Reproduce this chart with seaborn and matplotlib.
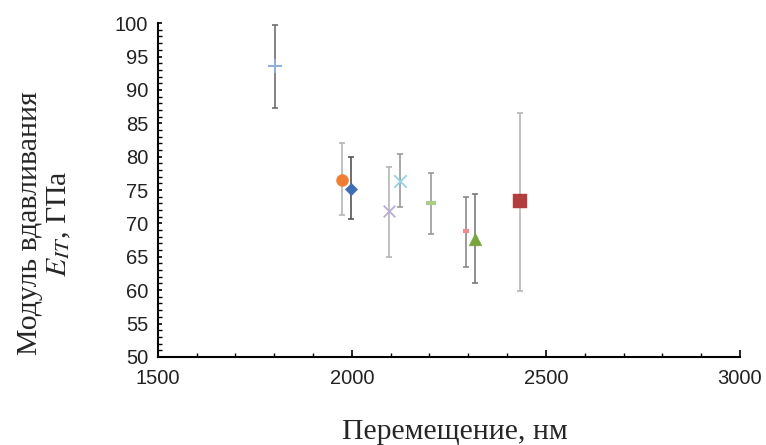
import matplotlib
matplotlib.use("Agg")
import matplotlib.pyplot as plt
import seaborn as sns
import pandas as pd
from matplotlib.ticker import MultipleLocator

sns.set_theme(style="white")
plt.rcParams["font.family"] = ["Liberation Sans", "DejaVu Sans"]
plt.rcParams["mathtext.fontset"] = "stix"

# Indentation depth (nm) and modulus (GPa) with error-bar limits
displacement = [1802, 1974, 1999, 2097, 2124, 2204, 2294, 2317, 2433]
modulus = [93.6, 76.5, 75.2, 71.8, 76.4, 73.0, 68.8, 67.7, 73.3]
upper = [99.7, 82.0, 80.0, 78.5, 80.4, 77.5, 74.0, 74.4, 86.5]
lower = [87.3, 71.2, 70.6, 64.9, 72.5, 68.4, 63.5, 61.1, 59.9]

markers = ["+", "o", "D", "x", "x", "_", "_", "^", "s"]
colors = ["#8fb0de", "#ec7f33", "#3f6fb3", "#b9add3", "#93d3e3",
          "#a9cf87", "#f08a8f", "#78a43c", "#b13d3f"]
sizes = [90, 75, 40, 70, 80, 60, 25, 85, 95]
line_widths = [1.4, 0.3, 0.3, 1.3, 1.3, 3.0, 3.0, 0.3, 0.3]
bar_colors = ["#6e6e6e", "#b5b5b5", "#555555", "#b5b5b5", "#9a9a9a",
              "#9a9a9a", "#8a8a8a", "#7a7a7a", "#b8b8b8"]

df = pd.DataFrame({"x": displacement, "y": modulus, "hi": upper, "lo": lower})

fig, ax = plt.subplots(figsize=(7.66, 4.45), dpi=100)
fig.subplots_adjust(left=0.206, right=0.966, top=0.948, bottom=0.198)

for i, row in df.iterrows():
    ax.errorbar(row.x, row.y, yerr=[[row.y - row.lo], [row.hi - row.y]],
                fmt="none", ecolor=bar_colors[i], elinewidth=1.2,
                capsize=2.5, capthick=1.2, zorder=2)
    line_art = markers[i] in ("+", "x", "_")
    sns.scatterplot(x=[row.x], y=[row.y], ax=ax, marker=markers[i],
                    s=sizes[i], color=colors[i],
                    linewidth=line_widths[i],
                    edgecolor=None if line_art else colors[i],
                    zorder=3, legend=False)

ax.set_xlim(1500, 3000)
ax.set_ylim(50, 100)
ax.xaxis.set_major_locator(MultipleLocator(500))
ax.xaxis.set_minor_locator(MultipleLocator(100))
ax.yaxis.set_major_locator(MultipleLocator(5))
ax.yaxis.set_minor_locator(MultipleLocator(1))

for side in ("top", "right"):
    ax.spines[side].set_visible(False)
for side in ("left", "bottom"):
    ax.spines[side].set_color("black")
    ax.spines[side].set_linewidth(1.5)

ax.tick_params(which="major", direction="in", length=5, width=1.2,
               colors="black", labelsize=14.5, labelcolor="#222222")
ax.tick_params(which="minor", direction="in", length=3, width=1.0,
               colors="black")
ax.tick_params(axis="x", which="both", bottom=True, pad=9)
ax.tick_params(axis="y", which="both", left=True, pad=7)
ax.tick_params(axis="y", which="major", length=3)

ax.set_xlabel("Перемещение, нм", fontsize=21.5, family="Liberation Serif",
              labelpad=22)
ax.set_ylabel("Модуль вдавливания\n$E_{IT}$, ГПа", fontsize=21.5,
              family="Liberation Serif", labelpad=30, linespacing=1.12)
ax.xaxis.label.set_x(0.51)
ax.yaxis.label.set_y(0.40)

fig.savefig("out.png", dpi=100)
